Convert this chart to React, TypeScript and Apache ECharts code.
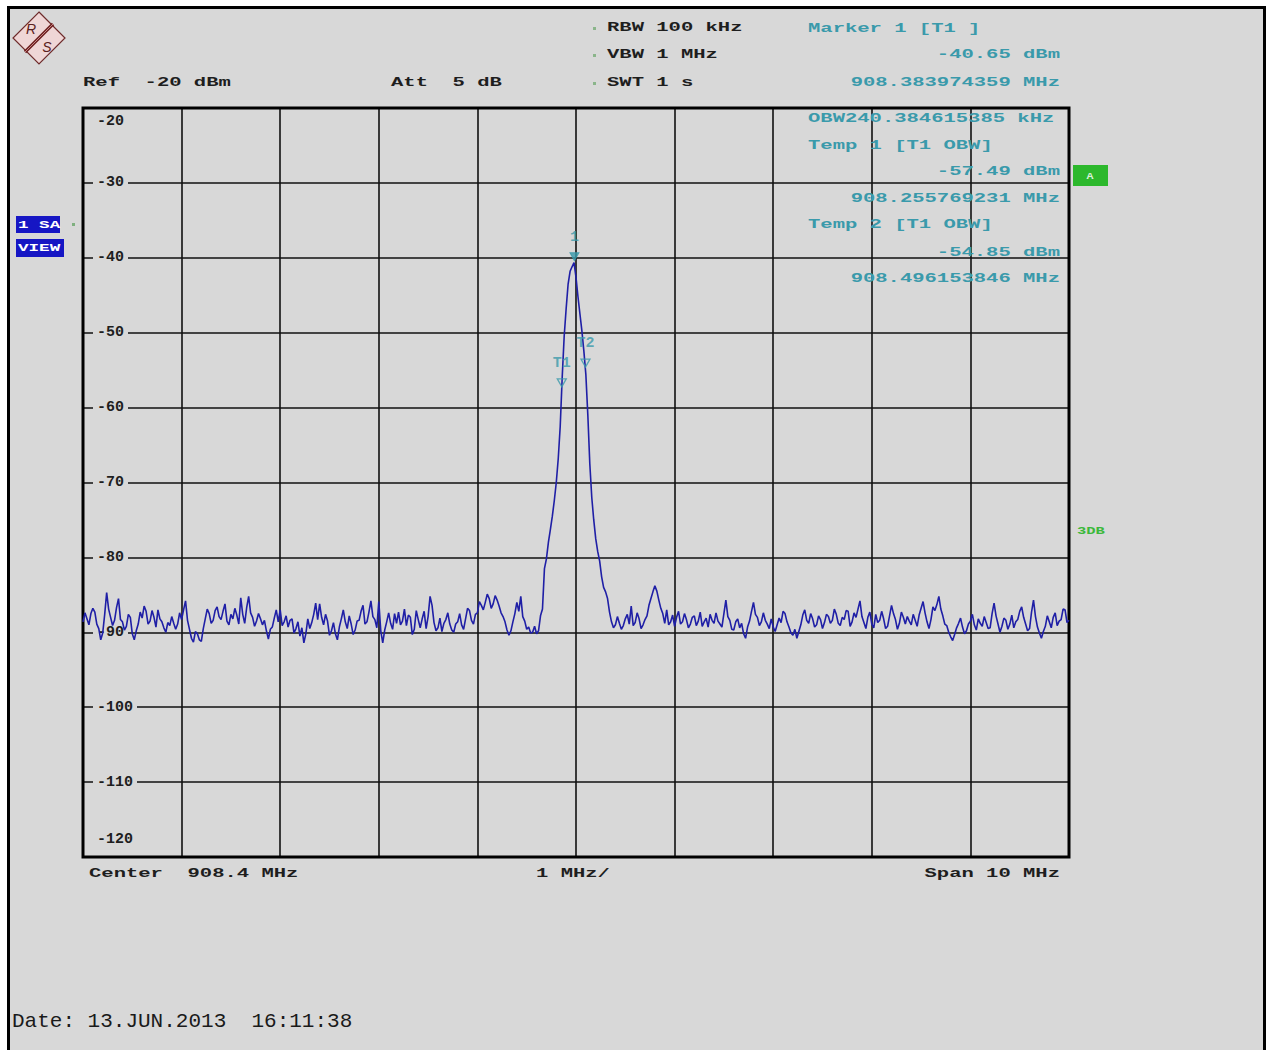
import React, { useEffect, useRef } from 'react';
import * as echarts from 'echarts';

// ---- data ----
const CENTER_MHZ = 908.4;
const SPAN_MHZ = 10;
const TRACE_STEP_MHZ = 0.02;
const yTicks = [-120, -20, 10]; // min, max, interval (dBm)

const traceLevels = [
  -88.6, -87.4, -88.2, -89.0, -87.5, -86.8, -87.3, -88.9, -89.5, -91.0,
  -90.1, -87.6, -84.7, -86.9, -88.0, -89.1, -88.4, -86.7, -85.5, -88.3,
  -88.6, -89.7, -89.2, -87.6, -88.0, -90.2, -91.0, -89.8, -88.9, -87.3,
  -88.1, -86.5, -87.2, -88.9, -88.5, -87.1, -88.0, -89.3, -87.0, -88.2,
  -88.6, -89.4, -90.0, -88.7, -89.1, -87.9, -88.8, -89.6, -88.9, -87.4,
  -88.3, -87.0, -85.8, -88.4, -89.6, -90.8, -91.3, -89.9, -90.2, -91.0,
  -91.2, -89.5, -88.2, -86.9, -87.5, -88.8, -88.4, -87.1, -86.6, -87.9,
  -88.3, -87.2, -86.2, -88.5, -89.0, -87.6, -88.2, -86.8, -87.7, -88.9,
  -85.4, -87.6, -88.8, -86.7, -85.2, -87.4, -88.0, -89.2, -88.5, -87.5,
  -88.2, -89.0, -88.4, -89.8, -90.9, -89.6, -89.3, -88.1, -87.0, -88.6,
  -87.0, -89.1, -88.6, -87.8, -89.3, -88.4, -88.2, -90.1, -89.5, -88.6,
  -90.5, -89.4, -91.4, -90.2, -88.2, -89.5, -88.7, -87.6, -86.1, -88.3,
  -86.2, -88.0, -89.0, -87.6, -88.5, -90.4, -89.8, -88.7, -90.2, -91.0,
  -89.3, -88.2, -87.0, -88.6, -89.5, -87.8, -88.9, -90.3, -89.7, -88.5,
  -88.4, -87.2, -86.4, -88.9, -88.6, -87.3, -85.8, -87.9, -88.3, -89.4,
  -85.9, -89.8, -91.4, -89.7, -88.6, -87.4, -88.8, -89.6, -87.5, -88.8,
  -87.3, -89.0, -88.5, -86.9, -89.1, -87.7, -88.0, -90.3, -89.6, -87.1,
  -88.3, -89.4, -88.2, -87.2, -89.5, -87.9, -85.2, -86.4, -88.7, -89.8,
  -89.4, -88.1, -89.9, -88.8, -88.3, -87.4, -88.9, -89.7, -90.0, -88.9,
  -88.6, -87.5, -89.0, -89.6, -88.2, -86.8, -87.1, -88.4, -88.9, -87.6,
  -87.4, -85.9, -86.4, -87.0, -86.0, -84.9, -85.5, -86.8, -86.2, -85.1,
  -85.7, -86.5, -87.4, -87.9, -88.6, -89.7, -90.4, -89.8, -88.6, -87.5,
  -86.0, -87.2, -85.2, -87.9, -88.5, -89.6, -89.3, -90.1, -90.0, -89.2,
  -90.2, -89.8, -87.8, -86.9, -81.5, -80.2, -78.0, -76.3, -74.5, -72.4,
  -70.0, -66.8, -62.5, -56.0, -50.5, -46.8, -43.5, -41.8, -41.2, -40.65,
  -42.6, -45.2, -47.5, -49.8, -52.5, -55.6, -61.0, -67.5, -72.0, -75.0,
  -77.5, -79.2, -80.5, -82.6, -84.0, -84.6, -85.5, -87.3, -88.6, -89.4,
  -89.0, -87.9, -88.8, -89.6, -89.1, -88.2, -87.6, -88.9, -86.5, -89.1,
  -88.7, -87.4, -88.2, -89.5, -89.0, -88.3, -87.8, -86.4, -85.5, -84.6,
  -83.8, -84.5, -85.7, -86.8, -87.5, -88.8, -87.0, -89.0, -88.6, -87.7,
  -89.2, -88.0, -87.2, -88.9, -88.6, -87.5, -88.3, -89.4, -88.9, -88.0,
  -87.8, -89.1, -88.5, -87.3, -89.2, -88.6, -88.1, -89.3, -87.6, -88.4,
  -88.8, -87.4, -88.5, -88.9, -89.3, -87.5, -85.7, -87.9, -88.4, -89.6,
  -89.7, -88.6, -88.2, -89.4, -88.8, -90.2, -90.8, -89.3, -88.5, -87.2,
  -86.0, -87.6, -88.0, -89.1, -88.6, -87.4, -88.4, -88.9, -89.5, -88.2,
  -89.3, -89.9, -89.0, -88.1, -88.7, -87.2, -87.5, -88.6, -89.3, -90.1,
  -90.4, -89.6, -90.8, -89.9, -89.0, -87.7, -87.0, -88.4, -88.8, -87.5,
  -88.2, -89.3, -89.0, -87.8, -88.3, -89.5, -88.7, -87.6, -87.9, -88.8,
  -88.4, -86.9, -87.6, -88.8, -89.1, -88.0, -88.3, -87.1, -87.2, -89.2,
  -88.6, -87.4, -88.0, -86.9, -85.8, -87.9, -88.7, -89.5, -88.0, -87.3,
  -88.9, -89.4, -87.6, -88.7, -88.4, -87.2, -88.2, -89.5, -89.2, -87.8,
  -86.4, -87.5, -88.3, -89.6, -88.8, -87.3, -88.0, -88.9, -87.9, -88.5,
  -89.0, -87.6, -88.4, -89.2, -87.7, -86.8, -85.9, -87.4, -88.6, -89.5,
  -88.3, -86.6, -87.1, -86.3, -85.2, -86.9, -87.8, -88.9, -89.1, -90.0,
  -90.6, -91.1, -90.3, -89.4, -88.8, -88.1, -89.3, -90.2, -89.8, -88.9,
  -88.5, -87.6, -89.0, -89.7, -88.2, -88.8, -89.2, -87.9, -88.7, -89.5,
  -89.4, -87.5, -86.1, -87.8, -88.9, -90.0, -89.2, -88.1, -88.4, -89.6,
  -88.9, -87.7, -89.4, -88.6, -88.3, -87.2, -86.6, -88.0, -88.9, -89.8,
  -89.5, -87.3, -85.7, -87.9, -89.3, -90.1, -90.8, -89.9, -89.2, -87.8,
  -88.6, -89.4, -88.0, -87.4, -89.1, -88.5, -88.3, -86.9, -87.0, -88.7,
  -88.4,
];

const markerNames = ['1', 'T1', 'T2'];
const markerFreqs = [908.383974359, 908.255769231, 908.496153846];
const markerLevels = [-40.65, -57.49, -54.85];
const obwKHz = 240.384615385;

// ---- styles ----
const BG = '#d8d8d8';
const TEAL = '#3a9aab';
const DARK = '#1e1e1e';
const MONO = '"Liberation Mono", "DejaVu Sans Mono", monospace';
const SX = 1.58;

function txt(
  text: string,
  x: number,
  y: number,
  color: string,
  align: 'left' | 'right' | 'center' = 'left',
  size = 13,
  sx = SX,
  weight = 'bold'
) {
  return {
    type: 'text',
    x,
    y,
    scaleX: sx,
    silent: true,
    z: 10,
    style: {
      text,
      fill: color,
      font: `${weight} ${size}px ${MONO}`,
      textAlign: align,
      textVerticalAlign: 'middle',
      align,
      verticalAlign: 'middle',
    },
  };
}

function buildOption() {
  const start = CENTER_MHZ - SPAN_MHZ / 2;
  const traceData = traceLevels.map((v, i) => [start + i * TRACE_STEP_MHZ - CENTER_MHZ, v]);

  const markerData = markerFreqs.map((f, i) => ({
    value: [f - CENTER_MHZ, markerLevels[i]],
    symbol: 'triangle',
    symbolRotate: 180,
    symbolSize: [9, 8],
    symbolOffset: [0, -6],
    itemStyle:
      i === 0
        ? { color: TEAL, borderColor: TEAL, borderWidth: 1 }
        : { color: 'rgba(0,0,0,0)', borderColor: TEAL, borderWidth: 1.3 },
    label: {
      show: true,
      position: 'top',
      distance: 7,
      formatter: markerNames[i],
      color: TEAL,
      fontFamily: MONO,
      fontWeight: 'bold',
      fontSize: 15,
    },
  }));

  const labelFont = { fontFamily: MONO, fontWeight: 'bold', fontSize: 15, color: DARK };

  const graphic: any[] = [
    // R&S logo
    {
      type: 'polygon',
      shape: { points: [[39, 12], [65, 38], [39, 64], [13, 38]] },
      style: { fill: '#efd6d6', stroke: '#6e2b2b', lineWidth: 1.2 },
      silent: true,
    },
    { type: 'line', shape: { x1: 53, y1: 24, x2: 25, y2: 52 }, style: { stroke: '#6e2020', lineWidth: 3.2 }, silent: true },
    { type: 'line', shape: { x1: 53, y1: 24, x2: 25, y2: 52 }, style: { stroke: '#d9a0a0', lineWidth: 0.8 }, silent: true },
    {
      type: 'text', x: 31, y: 29, silent: true,
      style: { text: 'R', fill: '#5a2020', font: 'italic 14px "Liberation Sans", sans-serif', textAlign: 'center', textVerticalAlign: 'middle', align: 'center', verticalAlign: 'middle' },
    },
    {
      type: 'text', x: 47, y: 47, silent: true,
      style: { text: 'S', fill: '#5a2020', font: 'italic 14px "Liberation Sans", sans-serif', textAlign: 'center', textVerticalAlign: 'middle', align: 'center', verticalAlign: 'middle' },
    },

    // header left
    txt('Ref  -20 dBm', 83, 83, DARK),
    txt('Att  5 dB', 391, 83, DARK),
    { type: 'rect', shape: { x: 593, y: 27, width: 3, height: 3 }, style: { fill: '#8ab58a' }, silent: true },
    { type: 'rect', shape: { x: 593, y: 54, width: 3, height: 3 }, style: { fill: '#8ab58a' }, silent: true },
    { type: 'rect', shape: { x: 593, y: 82, width: 3, height: 3 }, style: { fill: '#8ab58a' }, silent: true },
    txt('RBW 100 kHz', 607, 28, DARK),
    txt('VBW 1 MHz', 607, 55, DARK),
    txt('SWT 1 s', 607, 83, DARK),

    // marker info
    txt(`Marker ${markerNames[0]} [T1 ]`, 808, 29, TEAL),
    txt(`${markerLevels[0].toFixed(2)} dBm`, 1060, 55, TEAL, 'right'),
    txt(`${markerFreqs[0].toFixed(9)} MHz`, 1060, 83, TEAL, 'right'),
    txt(`OBW${obwKHz.toFixed(9)} kHz`, 808, 119, TEAL),
    txt('Temp 1 [T1 OBW]', 808, 146, TEAL),
    txt(`${markerLevels[1].toFixed(2)} dBm`, 1060, 172, TEAL, 'right'),
    txt(`${markerFreqs[1].toFixed(9)} MHz`, 1060, 199, TEAL, 'right'),
    txt('Temp 2 [T1 OBW]', 808, 225, TEAL),
    txt(`${markerLevels[2].toFixed(2)} dBm`, 1060, 253, TEAL, 'right'),
    txt(`${markerFreqs[2].toFixed(9)} MHz`, 1060, 279, TEAL, 'right'),

    // left badges
    { type: 'rect', shape: { x: 16, y: 216, width: 44, height: 17 }, style: { fill: '#1616c4' }, silent: true },
    txt('1 SA', 18, 225, '#ffffff', 'left', 11, 1.6),
    { type: 'rect', shape: { x: 72, y: 223, width: 3, height: 3 }, style: { fill: '#7fb07f' }, silent: true },
    { type: 'rect', shape: { x: 16, y: 239, width: 48, height: 18 }, style: { fill: '#1616c4' }, silent: true },
    txt('VIEW', 18, 248, '#ffffff', 'left', 11, 1.6),

    // right side
    { type: 'rect', shape: { x: 1073, y: 165, width: 35, height: 21 }, style: { fill: '#2cb82c' }, silent: true },
    txt('A', 1090, 176, '#d8f0d8', 'center', 9, 1.3),
    txt('3DB', 1077, 531, '#3cb83c', 'left', 10, 1.55),

    // bottom
    txt(`Center  ${CENTER_MHZ.toFixed(1)} MHz`, 89, 874, DARK),
    txt(`${SPAN_MHZ / 10} MHz/`, 573, 874, DARK, 'center'),
    txt(`Span ${SPAN_MHZ} MHz`, 1060, 874, DARK, 'right'),

    {
      type: 'text', x: 12, y: 1021, silent: true,
      style: {
        text: 'Date: 13.JUN.2013  16:11:38',
        fill: '#1a1a1a',
        font: `normal 21px ${MONO}`,
        textAlign: 'left', textVerticalAlign: 'middle', align: 'left', verticalAlign: 'middle',
      },
    },
  ];

  return {
    animation: false,
    backgroundColor: 'transparent',
    grid: {
      left: 83,
      top: 108,
      width: 986,
      height: 749,
      show: true,
      borderColor: '#000',
      borderWidth: 3,
      backgroundColor: 'transparent',
      z: 1,
    },
    xAxis: {
      type: 'value',
      min: -SPAN_MHZ / 2,
      max: SPAN_MHZ / 2,
      interval: 1,
      axisLine: { show: false },
      axisTick: { show: false },
      axisLabel: { show: false },
      splitLine: { show: true, lineStyle: { color: '#111', width: 1.6 } },
    },
    yAxis: {
      type: 'value',
      min: yTicks[0],
      max: yTicks[1],
      interval: yTicks[2],
      axisLine: { show: false },
      axisTick: { show: false },
      splitLine: { show: true, lineStyle: { color: '#111', width: 1.6 } },
      axisLabel: {
        inside: true,
        margin: 10,
        formatter: (v: number) =>
          v === yTicks[1] ? `{t|${v}}` : v === yTicks[0] ? `{b|${v}}` : `{n|${v}}`,
        rich: {
          n: { ...labelFont, backgroundColor: BG, padding: [1, 4, 1, 4] },
          t: { ...labelFont, padding: [26, 4, 0, 4] },
          b: { ...labelFont, padding: [0, 4, 36, 4] },
        },
      },
    },
    series: [
      {
        type: 'line',
        data: traceData,
        showSymbol: false,
        symbol: 'none',
        silent: true,
        lineStyle: { color: '#1f1fa6', width: 1.6 },
        z: 3,
      },
      {
        type: 'scatter',
        data: markerData,
        silent: true,
        z: 5,
      },
    ],
    graphic,
  };
}

export default function App() {
  const ref = useRef<HTMLDivElement>(null);
  useEffect(() => {
    if (!ref.current) return;
    const chart = echarts.init(ref.current, null, { renderer: 'svg' });
    chart.setOption(buildOption() as any);
    return () => chart.dispose();
  }, []);
  return (
    <div style={{ position: 'absolute', left: 0, top: 0, width: 1268, height: 1050, background: '#fff', overflow: 'hidden' }}>
      <div
        style={{
          position: 'absolute', left: 7, top: 6, width: 1259, height: 1100,
          border: '3px solid #000', boxSizing: 'border-box', background: BG,
        }}
      />
      <div ref={ref} style={{ position: 'absolute', left: 0, top: 0, width: 1268, height: 1050 }} />
    </div>
  );
}
